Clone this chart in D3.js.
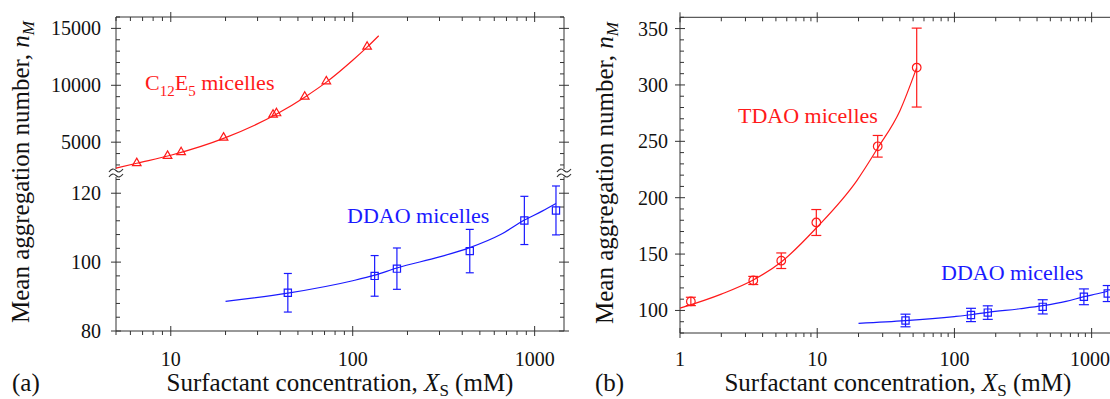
<!DOCTYPE html>
<html><head><meta charset="utf-8">
<script src="https://cdn.jsdelivr.net/npm/d3@7"></script>
</head><body style="margin:0;background:#fff">
<svg id="c" width="1110" height="399" style="display:block;font-family:'Liberation Serif',serif"></svg>
<script>
// ---------------- data ----------------
const c12e5X = [6.5, 9.6, 11.4, 19.5, 36.5, 38.1, 54.5, 71.6, 120];
const c12e5Y = [3160, 3800, 4120, 5400, 7420, 7540, 9000, 10350, 13390];
const c12e5FitX = [5, 6.5, 10, 20, 38, 55, 72, 100, 120, 139];
const c12e5FitY = [2720, 3150, 3850, 5400, 7450, 9000, 10300, 12200, 13350, 14350];

const ddaoX = [44, 132, 175, 440, 878, 1310];
const ddaoY = [91.1, 96.0, 98.1, 103.2, 112.1, 115.0];
const ddaoErr = [5.6, 5.9, 6.0, 6.3, 7.0, 7.1];
const ddaoFitX = [20, 44, 100, 132, 175, 300, 440, 650, 878, 1100, 1310];
const ddaoFitY = [88.6, 91.0, 94.6, 96.2, 98.3, 101.5, 104.2, 108.0, 112.2, 114.8, 117.0];

const tdaoX = [1.2, 3.42, 5.47, 9.85, 27.6, 53.1];
const tdaoY = [108, 126.6, 144.1, 178, 245.6, 315.4];
const tdaoErr = [3.7, 3.6, 6.9, 11.5, 9.6, 35];
const tdaoFitX = [1, 2, 3.42, 5.47, 10, 19.4, 27.6, 40, 53.1];
const tdaoFitY = [102, 114.5, 127, 143, 174, 215, 244, 277, 315.4];

const xTicksA = [10, 100, 1000];
const yTicksAUpper = [5000, 10000, 15000];
const yTicksALower = [80, 100, 120];
const xTicksB = [1, 10, 100, 1000];
const yTicksB = [100, 150, 200, 250, 300, 350];

const RED = "#ff1a1a", BLUE = "#1a1aff", AX = "#333";

// ---------------- scales ----------------
const xA = d3.scaleLog().domain([5, 1450]).range([116, 564]);
const yAU = d3.scaleLinear().domain([2600, 16000]).range([169.5, 17]);
const yAL = d3.scaleLinear().domain([80, 125]).range([331, 176]);
const xB = d3.scaleLog().domain([1, 1500]).range([680, 1115.8]);
const yB = d3.scaleLinear().domain([80, 360]).range([333, 17.3]);

const svg = d3.select("#c");
function txt(parent, size, fill) {
  return parent.append("text").style("font-family", "'Liberation Serif', serif")
    .attr("font-family", "Liberation Serif").attr("font-size", size).attr("fill", fill || "#111");
}

function logMinors(dom) {
  const out = [];
  for (let e = -1; e <= 4; e++) for (let m = 2; m <= 9; m++) {
    const v = m * Math.pow(10, e);
    if (v >= dom[0] && v <= dom[1]) out.push(v);
  }
  return out;
}
function linMinors(a, b, step, majors) {
  return d3.range(a, b + 1e-9, step).filter(v => !majors.some(m => Math.abs(m - v) < 1e-6));
}
const g = svg.append("g").attr("stroke", AX).attr("stroke-width", 1).attr("fill", "none");
function hLine(y, x0, x1) { g.append("line").attr("x1", x0).attr("x2", x1).attr("y1", y).attr("y2", y); }
function vLine(x, y0, y1) { g.append("line").attr("x1", x).attr("x2", x).attr("y1", y0).attr("y2", y1); }
function squiggle(x, y) {
  g.append("path").attr("d", `M${x-7},${y+1.5} Q${x-3.5},${y-3.5} ${x},${y} T${x+7},${y-1.5}`).attr("stroke-width", 1.1);
}

// ---------------- panel A frame ----------------
const [aL, aR] = xA.range();
const aT = 17, aB = 331;
hLine(aT, aL, aR); hLine(aB, aL, aR);
[aL, aR].forEach(x => { vLine(x, aT, 169); vLine(x, 177, aB); squiggle(x, 170.5); squiggle(x, 175.5); });

xTicksA.forEach(v => { const x = xA(v); vLine(x, aB - 5, aB + 5); vLine(x, aT - 5, aT + 5); });
logMinors(xA.domain()).forEach(v => { const x = xA(v); vLine(x, aB, aB + 4); vLine(x, aT, aT + 4); });
yTicksAUpper.forEach(v => { const y = yAU(v); hLine(y, aL - 5, aL + 5); hLine(y, aR - 5, aR + 5); });
linMinors(3000, 16000, 1000, yTicksAUpper).forEach(v => { const y = yAU(v); hLine(y, aL, aL + 4); hLine(y, aR - 4, aR); });
yTicksALower.forEach(v => { const y = yAL(v); hLine(y, aL - 5, aL + 5); hLine(y, aR - 5, aR + 5); });
linMinors(84, 124, 4, yTicksALower).forEach(v => { const y = yAL(v); hLine(y, aL, aL + 4); hLine(y, aR - 4, aR); });

// ---------------- panel B frame ----------------
const [bL, bR] = xB.range();
const bT = 17.3, bB = 333;
hLine(bT, bL, bR); hLine(bB, bL, bR); vLine(bL, bT, bB); vLine(bR, bT, bB);
xTicksB.forEach(v => { const x = xB(v); vLine(x, bB - 5, bB + 5); vLine(x, bT - 5, bT + 5); });
logMinors(xB.domain()).forEach(v => { const x = xB(v); vLine(x, bB, bB + 4); vLine(x, bT, bT + 4); });
yTicksB.forEach(v => { const y = yB(v); hLine(y, bL - 5, bL + 5); hLine(y, bR - 5, bR + 5); });
linMinors(80, 360, 10, yTicksB).forEach(v => { const y = yB(v); hLine(y, bL, bL + 4); hLine(y, bR - 4, bR); });

// ---------------- tick labels ----------------
const tl = svg.append("g");
xTicksA.forEach(v => txt(tl, 20).attr("x", xA(v)).attr("y", 366).attr("text-anchor", "middle").text(v));
xTicksB.forEach(v => {
  const t = txt(tl, 20).attr("x", xB(v)).attr("y", 366).attr("text-anchor", "middle").text(v);
  if (v === 1000) t.attr("x", 1090);
});
yTicksAUpper.forEach(v => txt(tl, 20).attr("x", aL - 15).attr("y", yAU(v)).attr("dy", "0.35em").attr("text-anchor", "end").text(v));
yTicksALower.forEach(v => txt(tl, 20).attr("x", aL - 15).attr("y", yAL(v)).attr("dy", "0.35em").attr("text-anchor", "end").text(v));
yTicksB.forEach(v => txt(tl, 20).attr("x", bL - 12).attr("y", yB(v)).attr("dy", "0.35em").attr("text-anchor", "end").text(v));

// ---------------- axis titles ----------------
function xTitle(cx) {
  const t = txt(svg, 25).attr("x", cx).attr("y", 391).attr("text-anchor", "middle");
  t.append("tspan").text("Surfactant concentration, ");
  t.append("tspan").attr("font-style", "italic").text("X");
  t.append("tspan").attr("font-size", 17).attr("dy", 5).text("S");
  t.append("tspan").attr("dy", -5).text(" (mM)");
}
xTitle((aL + aR) / 2);
xTitle((bL + bR) / 2);
function yTitle(bx, cy) {
  const t = txt(svg, 25).attr("transform", `translate(${bx},${cy}) rotate(-90)`).attr("text-anchor", "middle");
  t.append("tspan").text("Mean aggregation number, ");
  t.append("tspan").attr("font-style", "italic").text("n");
  t.append("tspan").attr("font-style", "italic").attr("font-size", 17).attr("dy", 5).text("M");
}
yTitle(29, 172);
yTitle(613, 173);
txt(svg, 25).attr("x", 12).attr("y", 391).text("(a)");
txt(svg, 25).attr("x", 595).attr("y", 391).text("(b)");

// ---------------- marks ----------------
function fitLine(xs, ys, sx, sy, color) {
  const pts = xs.map((x, i) => [x, ys[i]]);
  svg.append("path").datum(pts).attr("fill", "none").attr("stroke", color).attr("stroke-width", 1.2)
    .attr("d", d3.line().x(d => sx(d[0])).y(d => sy(d[1])).curve(d3.curveMonotoneX));
}
function errBars(xs, ys, es, sx, sy, color, cap) {
  const gg = svg.append("g").attr("stroke", color).attr("stroke-width", 1.2).attr("fill", "none");
  xs.forEach((x, i) => {
    const px = sx(x), y0 = sy(ys[i] - es[i]), y1 = sy(ys[i] + es[i]);
    gg.append("line").attr("x1", px).attr("x2", px).attr("y1", y0).attr("y2", y1);
    gg.append("line").attr("x1", px - cap / 2).attr("x2", px + cap / 2).attr("y1", y0).attr("y2", y0);
    gg.append("line").attr("x1", px - cap / 2).attr("x2", px + cap / 2).attr("y1", y1).attr("y2", y1);
  });
}
function markers(xs, ys, sx, sy, color, type, size) {
  const gg = svg.append("g").attr("stroke", color).attr("stroke-width", 1.2).attr("fill", "none");
  const sym = d3.symbol().type(type).size(size);
  xs.forEach((x, i) => gg.append("path").attr("transform", `translate(${sx(x)},${sy(ys[i])})`).attr("d", sym()));
}

fitLine(c12e5FitX, c12e5FitY, xA, yAU, RED);
markers(c12e5X, c12e5Y, xA, yAU, RED, d3.symbolTriangle, 32);
fitLine(ddaoFitX, ddaoFitY, xA, yAL, BLUE);
errBars(ddaoX, ddaoY, ddaoErr, xA, yAL, BLUE, 8);
markers(ddaoX, ddaoY, xA, yAL, BLUE, d3.symbolSquare, 52);

fitLine(tdaoFitX, tdaoFitY, xB, yB, RED);
errBars(tdaoX, tdaoY, tdaoErr, xB, yB, RED, 10);
markers(tdaoX, tdaoY, xB, yB, RED, d3.symbolCircle, 58);
fitLine(ddaoFitX, ddaoFitY, xB, yB, BLUE);
errBars(ddaoX, ddaoY, ddaoErr, xB, yB, BLUE, 10);
markers(ddaoX, ddaoY, xB, yB, BLUE, d3.symbolSquare, 52);

// ---------------- series labels ----------------
const lc = txt(svg, 22, RED).attr("x", 145).attr("y", 90);
lc.append("tspan").text("C");
lc.append("tspan").attr("font-size", 15).attr("dy", 6).text("12");
lc.append("tspan").attr("dy", -6).text("E");
lc.append("tspan").attr("font-size", 15).attr("dy", 6).text("5");
lc.append("tspan").attr("dy", -6).text(" micelles");
txt(svg, 22, BLUE).attr("x", 347).attr("y", 223).text("DDAO micelles");
txt(svg, 22, RED).attr("x", 738).attr("y", 123).text("TDAO micelles");
txt(svg, 22, BLUE).attr("x", 941).attr("y", 280).text("DDAO micelles");
</script>
</body></html>
